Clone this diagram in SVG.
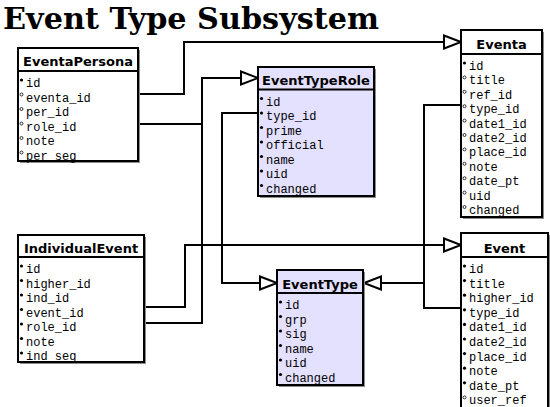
<svg xmlns="http://www.w3.org/2000/svg" width="550" height="407" viewBox="0 0 550 407">
<style>
.title{font-family:"DejaVu Serif","Liberation Serif",serif;font-weight:bold;font-size:30px;fill:#000}
.hd{font-family:"DejaVu Sans","Liberation Sans",sans-serif;font-weight:bold;font-size:13px;text-anchor:middle;fill:#000}
.f{font-family:"Liberation Mono","DejaVu Sans Mono",monospace;font-size:12px;fill:#000}
.sh{fill:#8c8c8c}
.bg{fill:#fff}
.bgp{fill:#e4e0ff}
.bd{fill:none;stroke:#000;stroke-width:2}
.sep{stroke:#000;stroke-width:2}
.k{fill:#000}
.o{fill:none;stroke:#000;stroke-width:0.8}
.c{fill:none;stroke:#000;stroke-width:2;marker-end:url(#tri)}
.c0{fill:none;stroke:#000;stroke-width:2}
</style>
<defs>
<marker id="tri" markerUnits="userSpaceOnUse" markerWidth="20" markerHeight="16" refX="17" refY="7.5" orient="auto" overflow="visible">
<path d="M0,1 L17,7.5 L0,14 Z" fill="#fff" stroke="#000" stroke-width="2" stroke-linejoin="miter"/>
</marker>
</defs>
<rect width="550" height="407" fill="#fff"/>
<text class="title" x="3" y="29" textLength="376" lengthAdjust="spacingAndGlyphs">Event Type Subsystem</text>

<g id="connectors">
<path class="c" d="M138,94 H184 V42 H461"/>
<path class="c" d="M138,124 H202 V78 H258"/>
<path class="c0" d="M144,323 H202 V124"/>
<path class="c" d="M144,307 H185 V245 H461"/>
<path class="c" d="M258,113 H222 V283 H277"/>
<path class="c0" d="M461,105 H424 V308 H461"/>
<path class="c" d="M424,283 H364"/>
</g>

<g id="EventaPersona">
<rect class="sh" x="20" y="50" width="120" height="113"/>
<rect class="bg" x="18" y="48" width="120" height="113"/>
<text class="hd" x="78" y="66">EventaPersona</text>
<line class="sep" x1="18" y1="71" x2="138" y2="71"/>
<circle class="k" cx="21.5" cy="80" r="1.6"/><text class="f" x="26" y="87">id</text>
<circle class="o" cx="21.5" cy="94.5" r="1.5"/><text class="f" x="26" y="101.5">eventa_id</text>
<circle class="o" cx="21.5" cy="109" r="1.5"/><text class="f" x="26" y="116">per_id</text>
<circle class="o" cx="21.5" cy="123.5" r="1.5"/><text class="f" x="26" y="130.5">role_id</text>
<circle class="o" cx="21.5" cy="138" r="1.5"/><text class="f" x="26" y="145">note</text>
<circle class="o" cx="21.5" cy="152.5" r="1.5"/><text class="f" x="26" y="159.5">per_seg</text>
<rect class="bd" x="18" y="48" width="120" height="113"/>
</g>

<g id="EventTypeRole">
<rect class="sh" x="260" y="69" width="116" height="129"/>
<rect class="bgp" x="258" y="67" width="116" height="129"/>
<text class="hd" x="316" y="85">EventTypeRole</text>
<line class="sep" x1="258" y1="89.5" x2="374" y2="89.5"/>
<circle class="k" cx="261.5" cy="98.5" r="1.6"/><text class="f" x="266" y="105.5">id</text>
<circle class="k" cx="261.5" cy="113" r="1.6"/><text class="f" x="266" y="120">type_id</text>
<circle class="k" cx="261.5" cy="127.5" r="1.6"/><text class="f" x="266" y="134.5">prime</text>
<circle class="k" cx="261.5" cy="142" r="1.6"/><text class="f" x="266" y="149">official</text>
<circle class="k" cx="261.5" cy="156.5" r="1.6"/><text class="f" x="266" y="163.5">name</text>
<circle class="k" cx="261.5" cy="171" r="1.6"/><text class="f" x="266" y="178">uid</text>
<circle class="k" cx="261.5" cy="185.5" r="1.6"/><text class="f" x="266" y="192.5">changed</text>
<rect class="bd" x="258" y="67" width="116" height="129"/>
</g>

<g id="Eventa">
<rect class="sh" x="463" y="32" width="81" height="187"/>
<rect class="bg" x="461" y="30" width="81" height="187"/>
<text class="hd" x="501.5" y="48.5">Eventa</text>
<line class="sep" x1="461" y1="54" x2="542" y2="54"/>
<circle class="k" cx="464.5" cy="63" r="1.6"/><text class="f" x="469" y="70">id</text>
<circle class="o" cx="464.5" cy="77.4" r="1.5"/><text class="f" x="469" y="84.4">title</text>
<circle class="o" cx="464.5" cy="91.8" r="1.5"/><text class="f" x="469" y="98.8">ref_id</text>
<circle class="o" cx="464.5" cy="106.2" r="1.5"/><text class="f" x="469" y="113.2">type_id</text>
<circle class="o" cx="464.5" cy="120.6" r="1.5"/><text class="f" x="469" y="127.6">date1_id</text>
<circle class="o" cx="464.5" cy="135" r="1.5"/><text class="f" x="469" y="142">date2_id</text>
<circle class="o" cx="464.5" cy="149.4" r="1.5"/><text class="f" x="469" y="156.4">place_id</text>
<circle class="o" cx="464.5" cy="163.8" r="1.5"/><text class="f" x="469" y="170.8">note</text>
<circle class="o" cx="464.5" cy="178.2" r="1.5"/><text class="f" x="469" y="185.2">date_pt</text>
<circle class="o" cx="464.5" cy="192.6" r="1.5"/><text class="f" x="469" y="199.6">uid</text>
<circle class="o" cx="464.5" cy="207" r="1.5"/><text class="f" x="469" y="214">changed</text>
<rect class="bd" x="461" y="30" width="81" height="187"/>
</g>

<g id="IndividualEvent">
<rect class="sh" x="20" y="237" width="126" height="127"/>
<rect class="bg" x="18" y="235" width="126" height="127"/>
<text class="hd" x="81" y="252.5">IndividualEvent</text>
<line class="sep" x1="18" y1="257" x2="144" y2="257"/>
<circle class="k" cx="21.5" cy="266" r="1.6"/><text class="f" x="26" y="273">id</text>
<circle class="k" cx="21.5" cy="280.5" r="1.6"/><text class="f" x="26" y="287.5">higher_id</text>
<circle class="k" cx="21.5" cy="295" r="1.6"/><text class="f" x="26" y="302">ind_id</text>
<circle class="k" cx="21.5" cy="309.5" r="1.6"/><text class="f" x="26" y="316.5">event_id</text>
<circle class="k" cx="21.5" cy="324" r="1.6"/><text class="f" x="26" y="331">role_id</text>
<circle class="k" cx="21.5" cy="338.5" r="1.6"/><text class="f" x="26" y="345.5">note</text>
<circle class="k" cx="21.5" cy="353" r="1.6"/><text class="f" x="26" y="360">ind_seg</text>
<rect class="bd" x="18" y="235" width="126" height="127"/>
</g>

<g id="EventType">
<rect class="sh" x="279" y="272" width="86" height="115"/>
<rect class="bgp" x="277" y="270" width="86" height="115"/>
<text class="hd" x="320" y="288.5">EventType</text>
<line class="sep" x1="277" y1="293" x2="363" y2="293"/>
<circle class="k" cx="280.5" cy="302" r="1.6"/><text class="f" x="285" y="309">id</text>
<circle class="k" cx="280.5" cy="316.5" r="1.6"/><text class="f" x="285" y="323.5">grp</text>
<circle class="k" cx="280.5" cy="331" r="1.6"/><text class="f" x="285" y="338">sig</text>
<circle class="k" cx="280.5" cy="345.5" r="1.6"/><text class="f" x="285" y="352.5">name</text>
<circle class="k" cx="280.5" cy="360" r="1.6"/><text class="f" x="285" y="367">uid</text>
<circle class="k" cx="280.5" cy="374.5" r="1.6"/><text class="f" x="285" y="381.5">changed</text>
<rect class="bd" x="277" y="270" width="86" height="115"/>
</g>

<g id="Event">
<rect class="sh" x="463" y="235" width="87" height="180"/>
<rect class="bg" x="461" y="233" width="87" height="180"/>
<text class="hd" x="504.5" y="252.5">Event</text>
<line class="sep" x1="461" y1="257" x2="548" y2="257"/>
<circle class="k" cx="464.5" cy="266" r="1.6"/><text class="f" x="469" y="273">id</text>
<circle class="k" cx="464.5" cy="280.6" r="1.6"/><text class="f" x="469" y="287.6">title</text>
<circle class="k" cx="464.5" cy="295.2" r="1.6"/><text class="f" x="469" y="302.2">higher_id</text>
<circle class="k" cx="464.5" cy="309.8" r="1.6"/><text class="f" x="469" y="316.8">type_id</text>
<circle class="k" cx="464.5" cy="324.4" r="1.6"/><text class="f" x="469" y="331.4">date1_id</text>
<circle class="k" cx="464.5" cy="339" r="1.6"/><text class="f" x="469" y="346">date2_id</text>
<circle class="k" cx="464.5" cy="353.6" r="1.6"/><text class="f" x="469" y="360.6">place_id</text>
<circle class="k" cx="464.5" cy="368.2" r="1.6"/><text class="f" x="469" y="375.2">note</text>
<circle class="k" cx="464.5" cy="382.8" r="1.6"/><text class="f" x="469" y="389.8">date_pt</text>
<circle class="o" cx="464.5" cy="397.4" r="1.5"/><text class="f" x="469" y="404.4">user_ref</text>
<rect class="bd" x="461" y="233" width="87" height="180"/>
</g>
</svg>
